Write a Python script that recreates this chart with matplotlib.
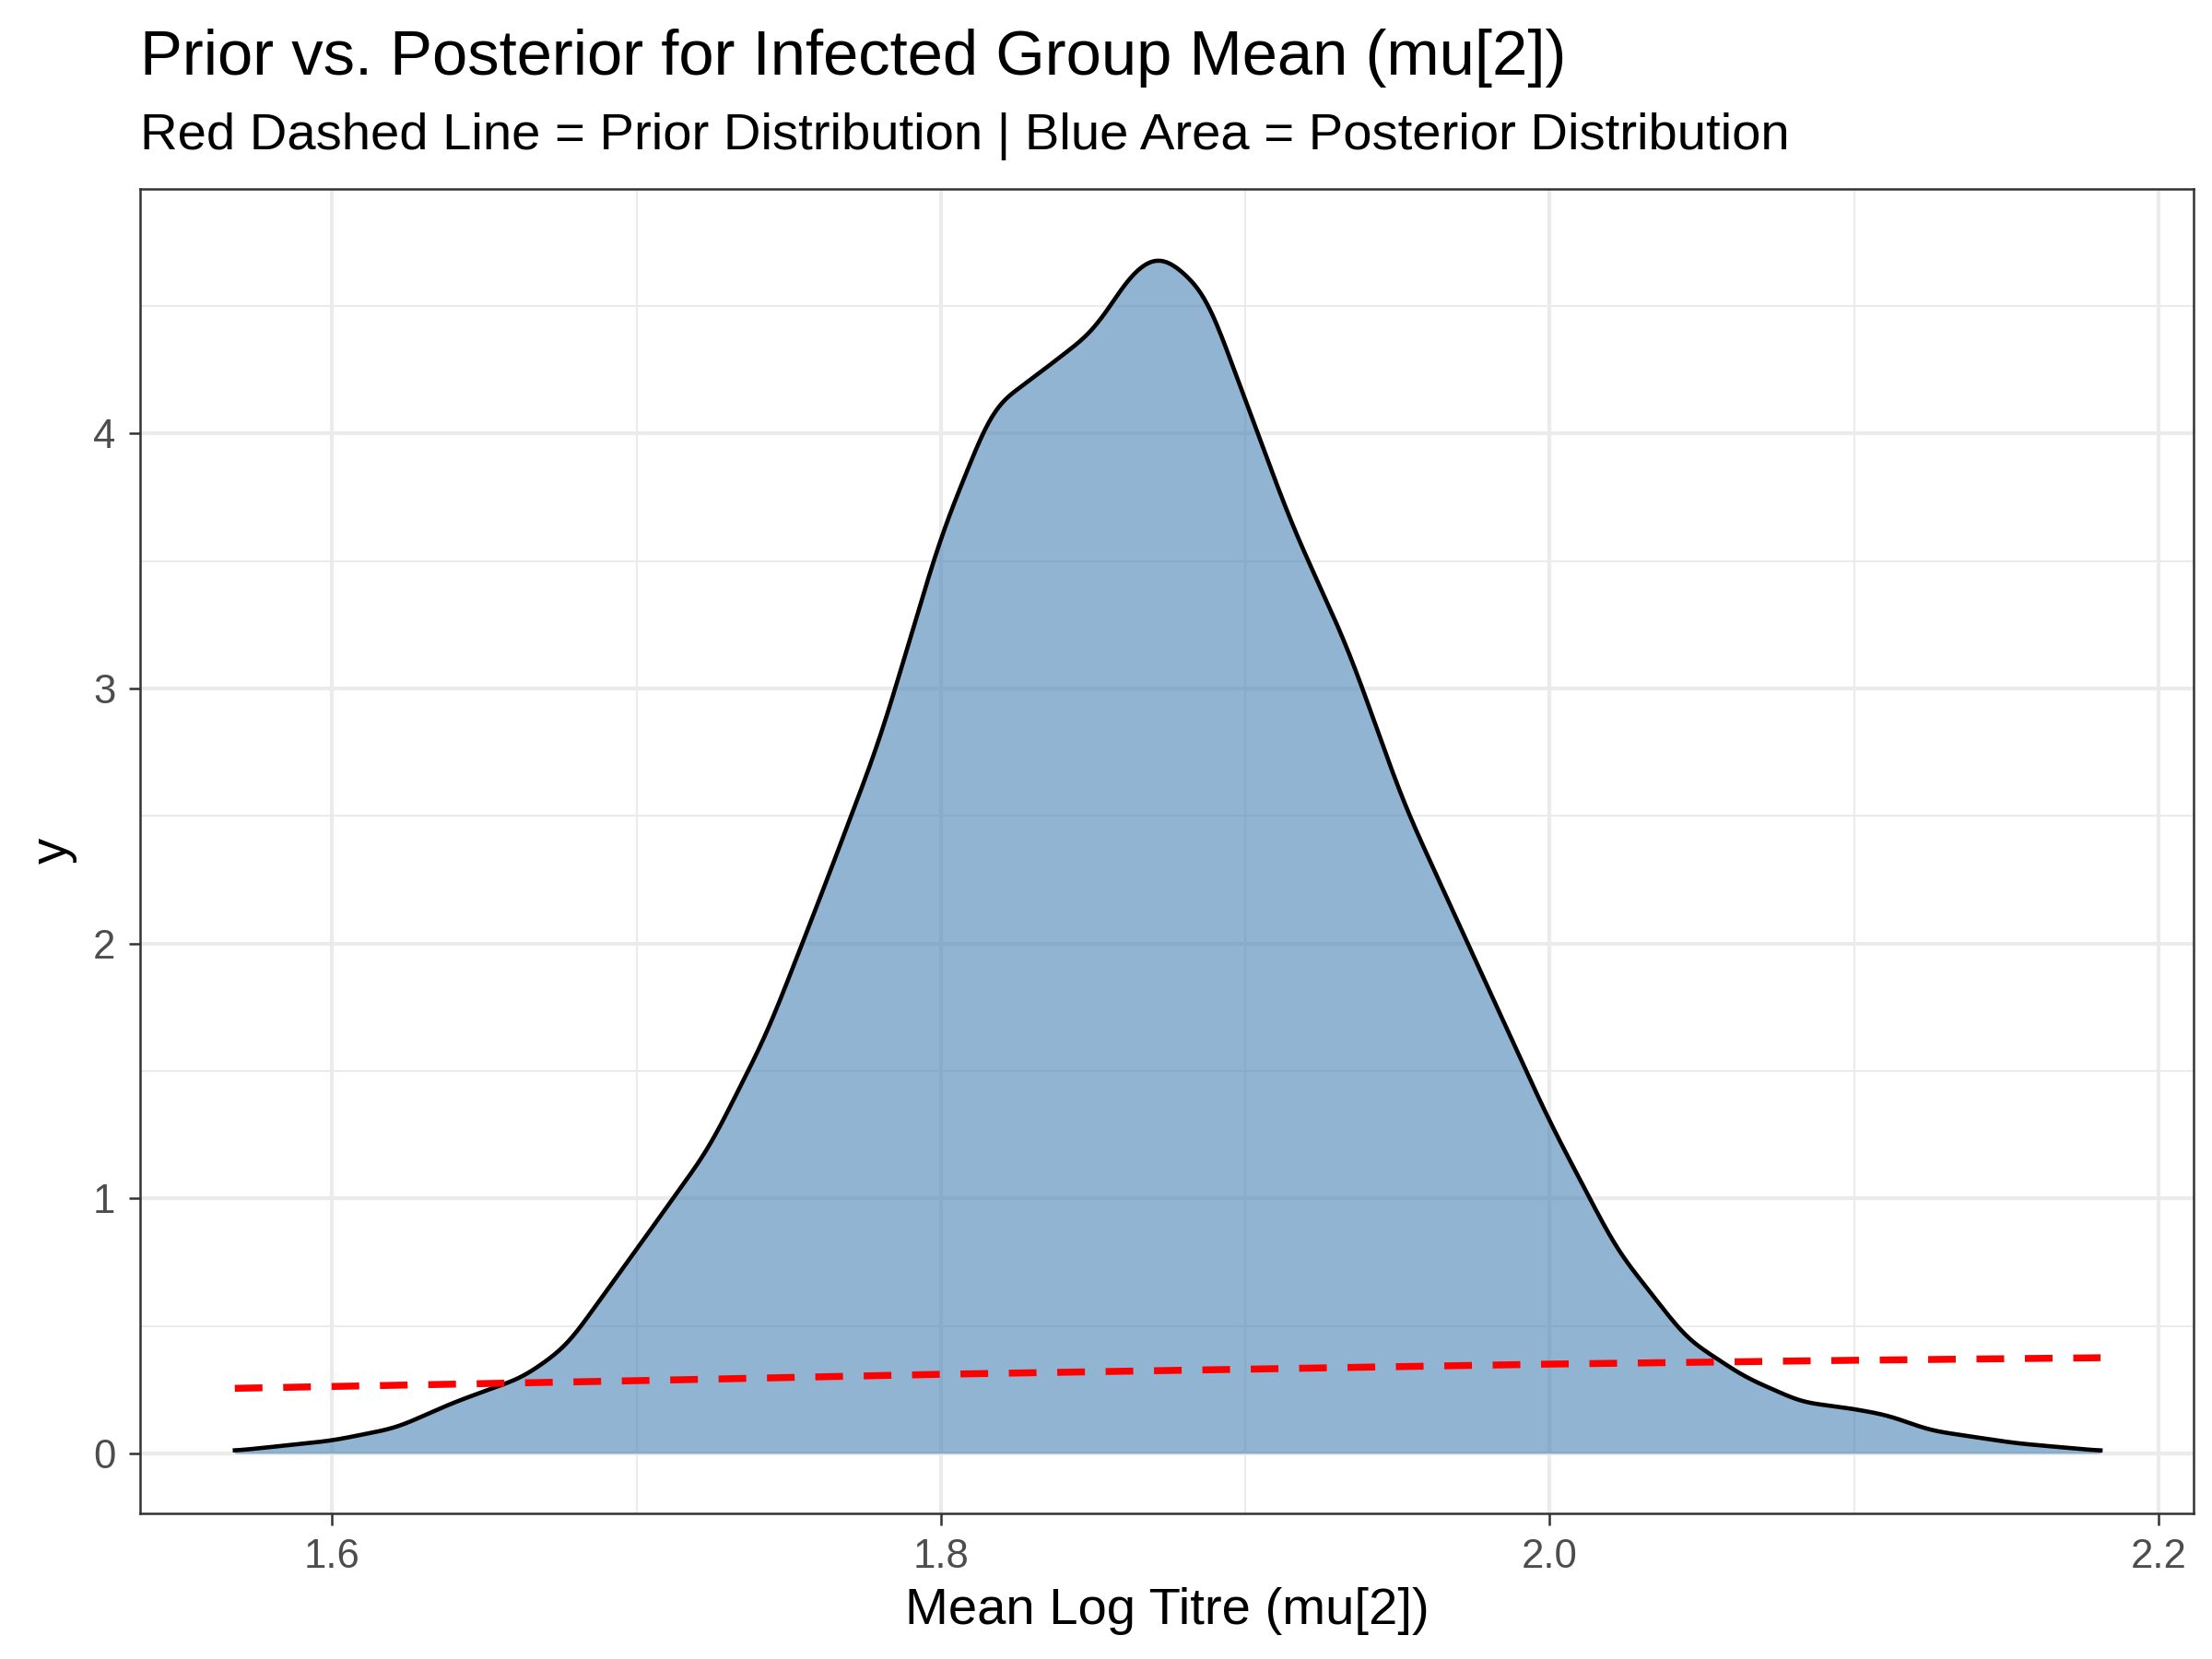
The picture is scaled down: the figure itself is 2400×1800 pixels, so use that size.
import matplotlib
matplotlib.use("Agg")
import matplotlib.pyplot as plt
import numpy as np

post_x = [1.568,1.6,1.621,1.64,1.663,1.677,1.7,1.724,1.743,1.761,1.78,1.8,1.817,1.836,1.85,1.864,1.873,1.887,1.901,1.915,1.934,1.952,1.975,2.0,2.022,2.045,2.064,2.083,2.097,2.111,2.125,2.153,2.181]
post_y = [0.01,0.05,0.1,0.2,0.3,0.42,0.8,1.2,1.65,2.2,2.8,3.6,4.1,4.27,4.4,4.65,4.7,4.55,4.1,3.65,3.15,2.55,1.95,1.3,0.8,0.45,0.3,0.2,0.18,0.15,0.09,0.04,0.01]
prior_x = [1.568,1.7,1.8,1.9,2.0,2.1,2.181]
prior_y = [0.255,0.285,0.31,0.33,0.35,0.365,0.375]

# smooth the read-off points for drawing
gx = np.linspace(post_x[0], post_x[-1], 1200)
gy = np.interp(gx, post_x, post_y)
k = np.hanning(41); k /= k.sum()
pad = np.pad(gy, 20, mode='edge')
gy = np.convolve(pad, k, mode='valid')

plt.rcParams['font.family'] = ['Liberation Sans', 'DejaVu Sans']
fig = plt.figure(figsize=(8,6), dpi=300)
ax = fig.add_axes([0.0635, 0.088, 0.9282, 0.7983])
ax.fill_between(gx, gy, color='steelblue', alpha=0.6, lw=0)
ax.plot(gx, gy, color='black', lw=1.1)
ax.plot(prior_x, prior_y, color='red', lw=1.8, ls=(0,(4,3)))
ax.set_xlim(1.537, 2.2116)
ax.set_ylim(-0.234, 4.96)
ax.set_xticks([1.6,1.8,2.0,2.2])
ax.set_xticklabels(['1.6','1.8','2.0','2.2'])
ax.set_yticks([0,1,2,3,4])
ax.set_xticks([1.7,1.9,2.1], minor=True)
ax.set_yticks([0.5,1.5,2.5,3.5,4.5], minor=True)
ax.grid(which='major', color='#ebebeb', lw=1.0)
ax.grid(which='minor', color='#ebebeb', lw=0.5)
ax.set_axisbelow(True)
ax.tick_params(which='major', length=3, color='#333333', labelsize=10.5, labelcolor='#4d4d4d', width=0.6)
ax.tick_params(which='minor', length=0)
for s in ax.spines.values():
    s.set_color('#333333'); s.set_linewidth(0.6)
ax.set_xlabel('Mean Log Titre (mu[2])', fontsize=13.5, labelpad=3)
ax.set_ylabel('y', fontsize=13.5)
fig.text(0.0635, 0.965, 'Prior vs. Posterior for Infected Group Mean (mu[2])', fontsize=16.5, va='center')
fig.text(0.0635, 0.918, 'Red Dashed Line = Prior Distribution | Blue Area = Posterior Distribution', fontsize=13.5, va='center')
fig.savefig('out.png', dpi=300)
